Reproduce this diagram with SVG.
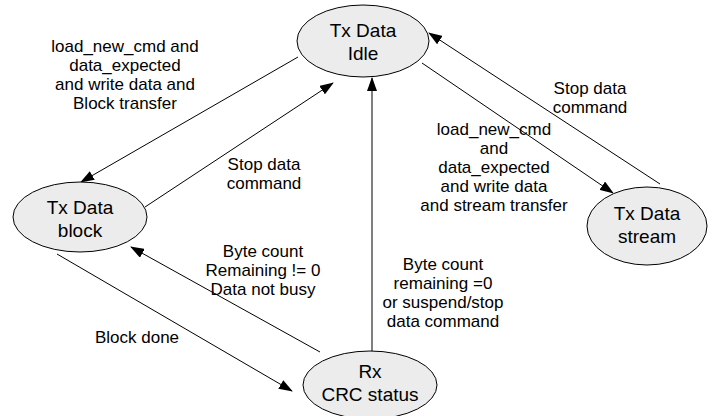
<svg xmlns="http://www.w3.org/2000/svg" width="712" height="416" viewBox="0 0 712 416">
<style>
.n ellipse{fill:#ececec;stroke:#000;stroke-width:1}
.n text{font-family:"Liberation Sans",Arial,sans-serif;font-size:19px;text-anchor:middle;fill:#000}
.l{font-family:"Liberation Sans",Arial,sans-serif;font-size:17px;text-anchor:middle;fill:#000}
.c line{stroke:#000;stroke-width:1;marker-end:url(#ah)}
</style>
<defs>
<marker id="ah" markerWidth="14" markerHeight="10" refX="13" refY="5" orient="auto" markerUnits="userSpaceOnUse">
<path d="M0,0 L14,5 L0,10 z" fill="#000"/>
</marker>
</defs>
<rect width="712" height="416" fill="#fff"/>
<g class="c">
<line x1="298" y1="57" x2="81" y2="182"/>
<line x1="145" y1="207" x2="333" y2="83"/>
<line x1="372" y1="351" x2="372" y2="78"/>
<line x1="320" y1="352" x2="131" y2="247"/>
<line x1="57" y1="254" x2="292" y2="391"/>
<line x1="422" y1="63" x2="613" y2="193"/>
<line x1="660" y1="184" x2="429" y2="33"/>
</g>
<g id="idle" class="n"><ellipse cx="363" cy="41" rx="66" ry="36"/><text x="363" y="37">Tx Data</text><text x="363" y="60">Idle</text></g>
<g id="block" class="n"><ellipse cx="80" cy="217" rx="67" ry="35"/><text x="80" y="214">Tx Data</text><text x="80" y="237">block</text></g>
<g id="stream" class="n"><ellipse cx="647" cy="226" rx="60" ry="39"/><text x="647" y="220">Tx Data</text><text x="647" y="243">stream</text></g>
<g id="rx" class="n"><ellipse cx="370" cy="385" rx="67" ry="34"/><text x="370" y="378">Rx</text><text x="370" y="401">CRC status</text></g>
<g id="labels">
<text class="l"><tspan x="125" y="52">load_new_cmd and</tspan><tspan x="125" y="71">data_expected</tspan><tspan x="125" y="90">and write data and</tspan><tspan x="125" y="109">Block transfer</tspan></text>
<text class="l"><tspan x="264" y="170">Stop data</tspan><tspan x="264" y="189">command</tspan></text>
<text class="l"><tspan x="590" y="94">Stop data</tspan><tspan x="590" y="113">command</tspan></text>
<text class="l"><tspan x="494" y="135">load_new_cmd</tspan><tspan x="494" y="154">and</tspan><tspan x="494" y="173">data_expected</tspan><tspan x="494" y="192">and write data</tspan><tspan x="494" y="211">and stream transfer</tspan></text>
<text class="l"><tspan x="263" y="257">Byte count</tspan><tspan x="263" y="276">Remaining != 0</tspan><tspan x="263" y="295">Data not busy</tspan></text>
<text class="l"><tspan x="443" y="270">Byte count</tspan><tspan x="443" y="289">remaining =0</tspan><tspan x="443" y="308">or suspend/stop</tspan><tspan x="443" y="327">data command</tspan></text>
<text class="l" x="137" y="343">Block done</text>
</g>
</svg>
